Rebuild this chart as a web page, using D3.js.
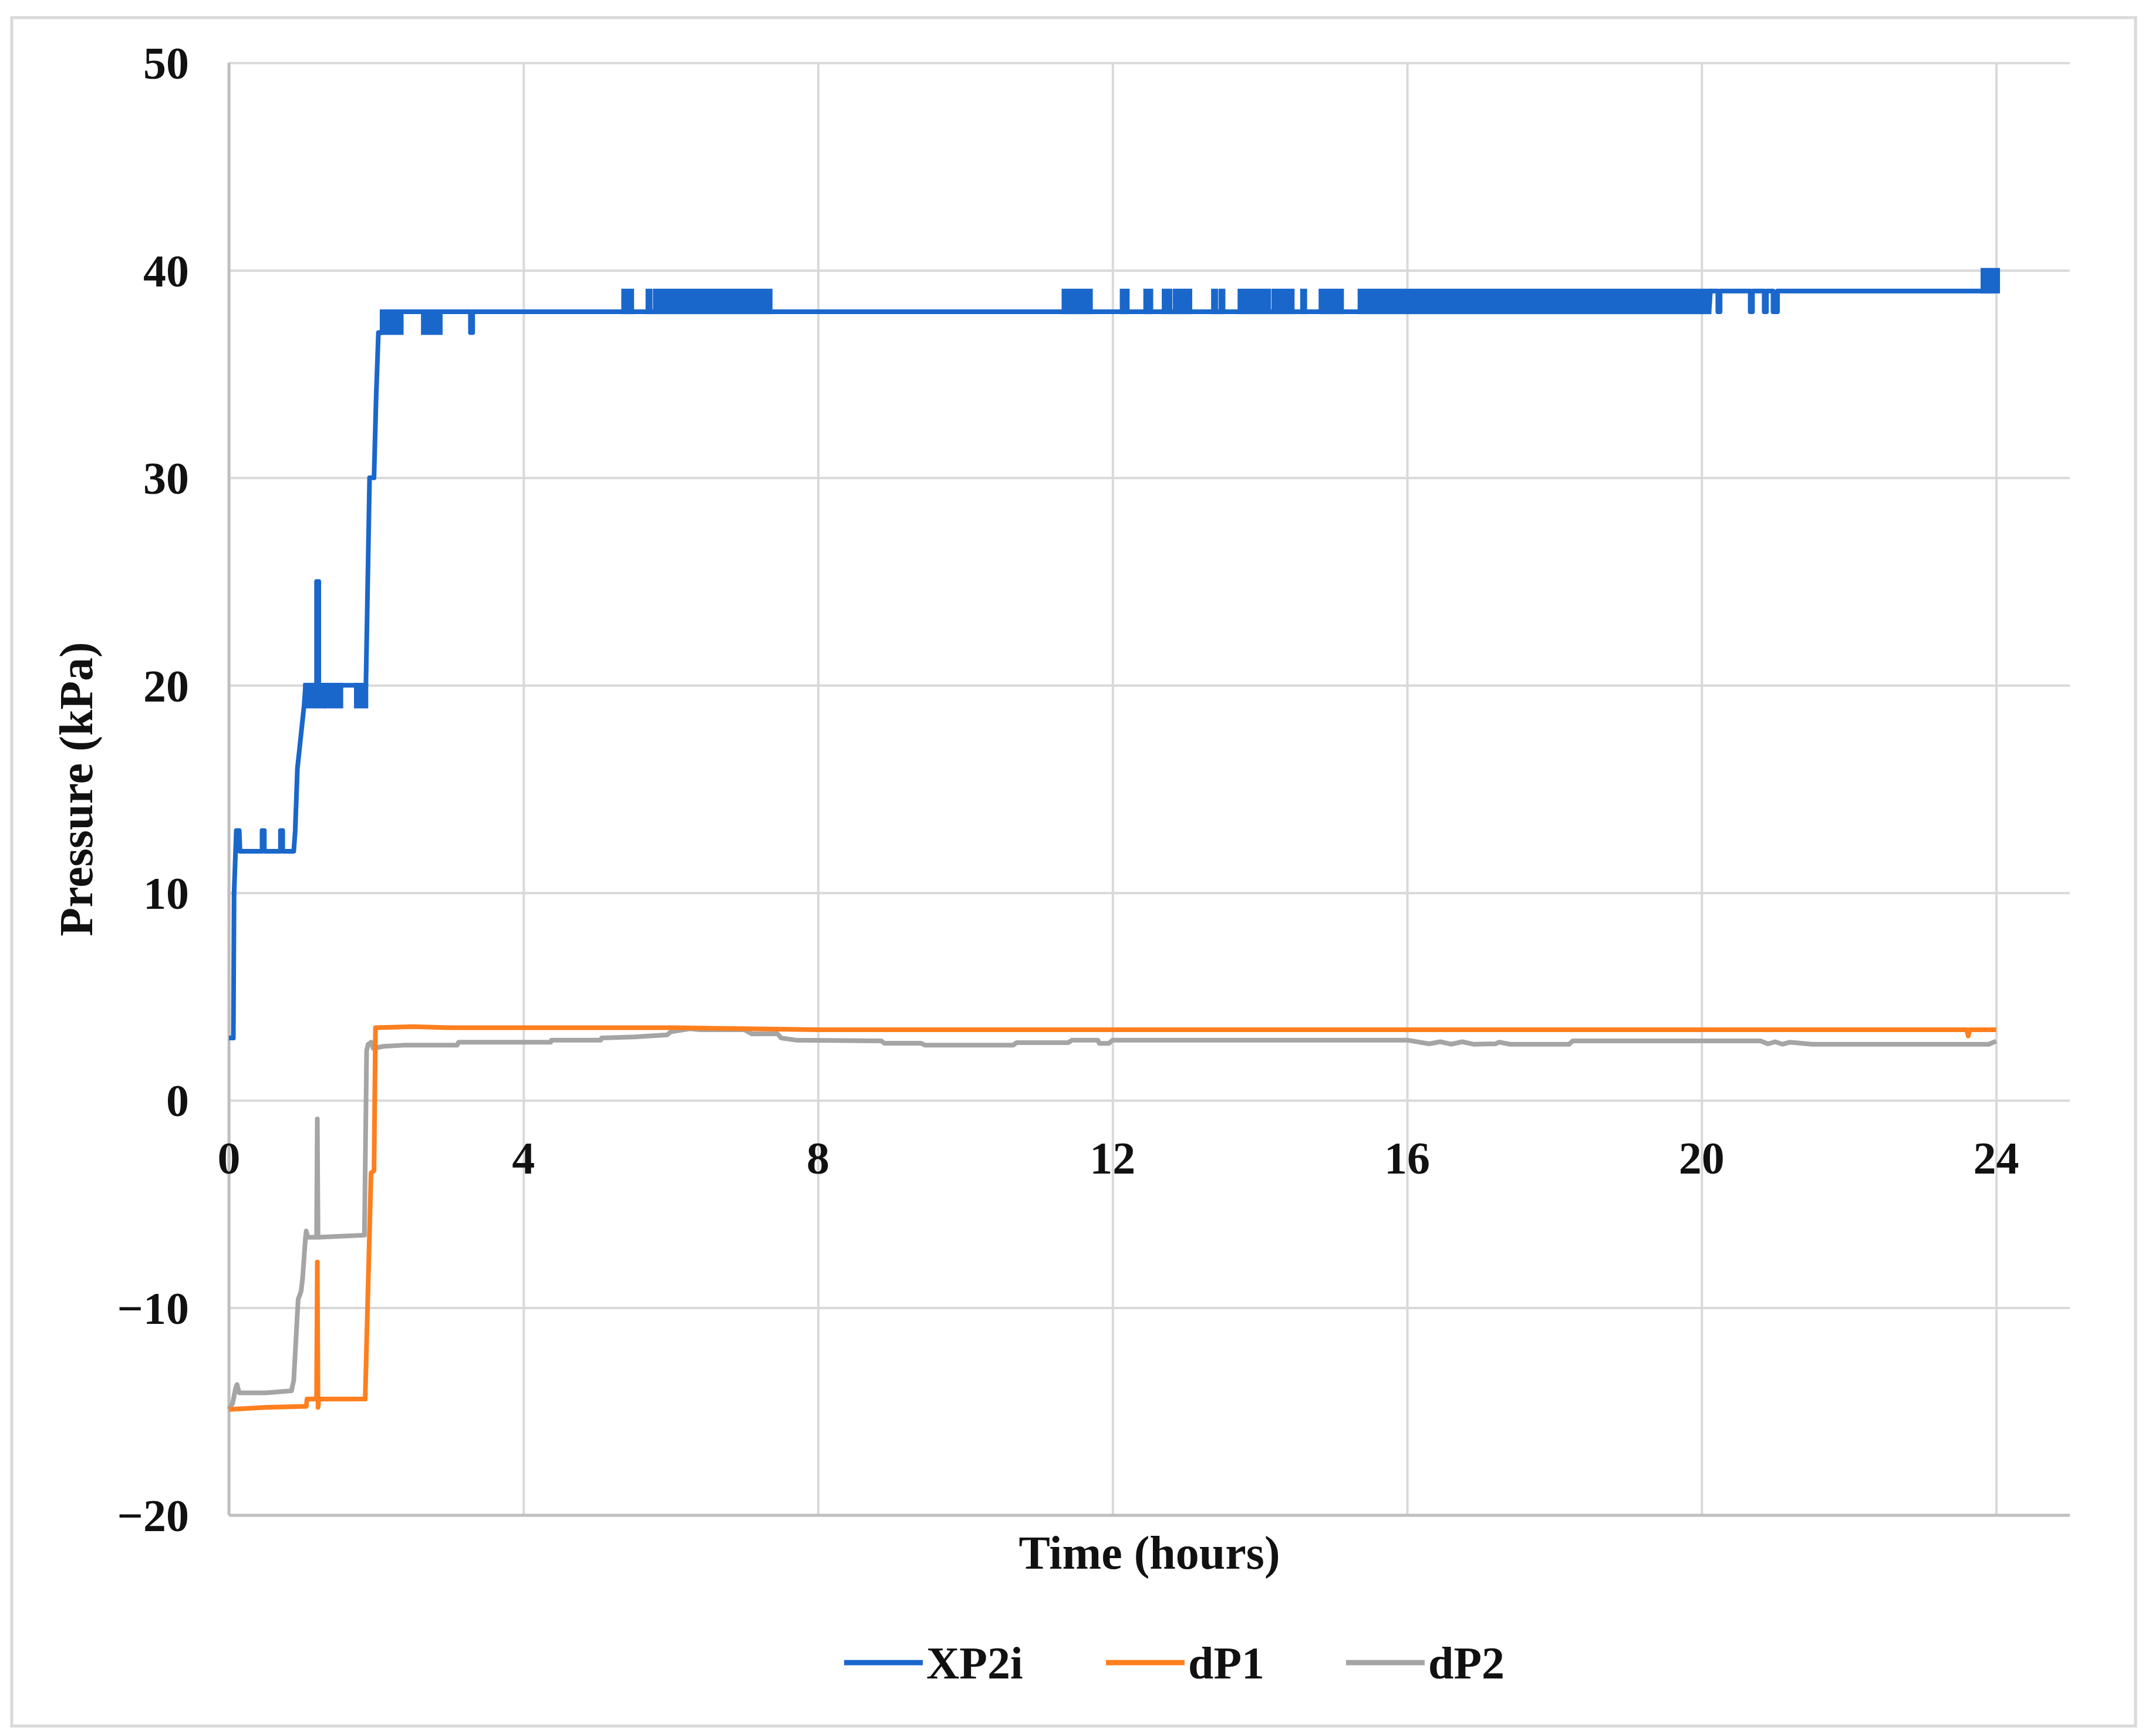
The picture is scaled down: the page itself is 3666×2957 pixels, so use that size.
<!DOCTYPE html>
<html><head><meta charset="utf-8">
<script src="https://cdn.jsdelivr.net/npm/d3@7"></script>
<style>html,body{margin:0;padding:0;background:#fff;}</style>
</head><body>
<script>
// ---------- data ----------
const xTicks = [0, 4, 8, 12, 16, 20, 24];
const yTicks = [-20, -10, 0, 10, 20, 30, 40, 50];
const seriesNames = ["XP2i", "dP1", "dP2"];
const seriesColors = ["#1a67cc", "#ff7f1e", "#a5a5a5"];

// XP2i (kPa) vs time (h)
const xp2i = [
  [0,3],[0.06,3],[0.07,10],[0.09,12],[0.10,13],[0.14,13],[0.15,12],
  [0.45,12],[0.45,13],[0.48,13],[0.48,12],
  [0.70,12],[0.70,13],[0.73,13],[0.73,12],
  [0.88,12],[0.90,13],[0.93,16],[0.96,17],[0.99,18],[1.02,19],[1.04,20],
  [1.19,20],[1.19,25],[1.22,25],[1.22,20],
  [1.86,20],[1.88,24],[1.91,30],[1.97,30],[2.00,34],[2.03,37],[2.08,37],[2.09,38],
  [3.28,38],[3.28,37],[3.31,37],[3.31,38],
  [20.10,38],[20.12,39],
  [20.22,39],[20.22,38],[20.25,38],[20.25,39],
  [20.66,39],[20.66,38],[20.69,38],[20.69,39],
  [20.85,39],[20.85,38],[20.88,38],[20.88,39],
  [20.97,39],[20.97,38],[21.03,38],[21.03,39],
  [23.82,39],[24.0,39]
];
// XP2i intervals of rapid flicker between two readings: [tStart, tEnd, low, high]
const xp2iFlicker = [
  [1.04,1.28,19,20],[1.32,1.52,19,20],[1.73,1.86,19,20],
  [2.08,2.34,37,38],[2.64,2.72,37,38],[2.78,2.87,37,38],
  [5.36,5.47,38,39],[5.69,5.72,38,39],[5.79,7.35,38,39],
  [11.34,11.70,38,39],[12.13,12.20,38,39],[12.45,12.52,38,39],
  [12.70,12.78,38,39],[12.85,12.95,38,39],[13.00,13.05,38,39],
  [13.37,13.40,38,39],[13.47,13.50,38,39],[13.73,14.12,38,39],
  [14.19,14.44,38,39],[14.58,14.61,38,39],[14.83,15.11,38,39],
  [15.36,20.10,38,39],[23.82,24.02,39,40]
];
// dP1 (kPa)
const dp1 = [
  [0,-14.9],[0.5,-14.8],[1.05,-14.75],[1.06,-14.4],[1.19,-14.4],[1.20,-7.8],
  [1.21,-14.8],[1.22,-14.4],[1.85,-14.4],[1.93,-3.5],[1.97,-3.4],[1.99,3.5],
  [2.5,3.55],[3.0,3.5],[6.0,3.5],[7.0,3.45],[8.0,3.4],[12,3.4],[16,3.4],
  [20,3.4],[23.60,3.4],[23.62,3.1],[23.64,3.4],[24.0,3.4]
];
// dP2 (kPa)
const dp2 = [
  [0,-14.9],[0.05,-14.6],[0.09,-13.9],[0.11,-13.7],[0.14,-14.1],[0.5,-14.1],
  [0.85,-14.0],[0.88,-13.5],[0.94,-9.6],[0.98,-9.2],[1.00,-8.6],[1.04,-6.6],
  [1.05,-6.3],[1.07,-6.6],[1.19,-6.6],[1.20,-0.9],[1.21,-6.6],[1.84,-6.5],
  [1.87,2.4],[1.89,2.7],[1.93,2.8],[1.96,2.5],[2.1,2.6],[2.4,2.66],
  [3.1,2.66],[3.12,2.8],[4.37,2.8],[4.38,2.9],[5.05,2.9],[5.06,3.0],[5.5,3.05],
  [5.95,3.15],[6.0,3.3],[6.26,3.45],[6.4,3.4],[7.0,3.4],[7.1,3.2],[7.45,3.2],
  [7.5,3.0],[7.7,2.9],[8.86,2.86],[8.9,2.75],[9.4,2.75],[9.45,2.66],[10.65,2.66],
  [10.7,2.78],[11.4,2.78],[11.45,2.9],[11.8,2.9],[11.82,2.74],[11.95,2.74],
  [12.0,2.9],[16.0,2.9],[16.3,2.72],[16.45,2.82],[16.6,2.7],[16.75,2.82],
  [16.9,2.7],[17.2,2.72],[17.25,2.8],[17.4,2.7],[18.2,2.7],[18.25,2.86],
  [20.8,2.86],[20.9,2.72],[21.0,2.82],[21.1,2.7],[21.2,2.8],[21.5,2.7],
  [23.9,2.7],[24.0,2.85]
];

// ---------- drawing ----------
const W = 3666, H = 2957;
const svg = d3.select("body").append("svg").attr("width", W).attr("height", H)
  .style("font-family", "'Liberation Serif','Times New Roman',serif");

svg.append("rect").attr("x", 0).attr("y", 0).attr("width", W).attr("height", H).attr("fill", "#fff");
svg.append("rect").attr("x", 20).attr("y", 30).attr("width", 3618).attr("height", 2910)
  .attr("fill", "none").attr("stroke", "#d9d9d9").attr("stroke-width", 5);

const x = d3.scaleLinear().domain([0, 25]).range([390, 3526]);
const y = d3.scaleLinear().domain([-20, 50]).range([2581, 107]);

// horizontal gridlines
svg.append("g").attr("transform", `translate(${x(0)},0)`)
  .call(d3.axisLeft(y).tickValues(yTicks).tickSize(-(x(25) - x(0))).tickFormat(""))
  .call(g => g.select(".domain").remove())
  .call(g => g.selectAll("line").attr("stroke", "#d9d9d9").attr("stroke-width", 4));
// vertical gridlines
svg.append("g").attr("transform", `translate(0,${y(-20)})`)
  .call(d3.axisBottom(x).tickValues(xTicks).tickSize(-(y(-20) - y(50))).tickFormat(""))
  .call(g => g.select(".domain").remove())
  .call(g => g.selectAll("line").attr("stroke", "#d9d9d9").attr("stroke-width", 4));
// axis lines
svg.append("line").attr("x1", x(0)).attr("x2", x(0)).attr("y1", y(50)).attr("y2", y(-20))
  .attr("stroke", "#bfbfbf").attr("stroke-width", 5);
svg.append("line").attr("x1", x(0)).attr("x2", x(25)).attr("y1", y(-20)).attr("y2", y(-20))
  .attr("stroke", "#bfbfbf").attr("stroke-width", 5);

// tick labels
const fmt = v => v < 0 ? "\u2212" + Math.abs(v) : String(v);
svg.append("g").selectAll("text").data(yTicks).join("text")
  .attr("x", 322).attr("y", d => y(d)).attr("dy", "0.35em")
  .attr("text-anchor", "end").attr("font-size", 78).attr("font-weight", "bold")
  .attr("fill", "#111").text(fmt);
svg.append("g").selectAll("text").data(xTicks).join("text")
  .attr("x", d => x(d)).attr("y", 1972).attr("dy", "0.35em")
  .attr("text-anchor", "middle").attr("font-size", 78).attr("font-weight", "bold")
  .attr("fill", "#111").text(fmt);

// axis titles
svg.append("text").attr("x", (x(0) + x(25)) / 2).attr("y", 2644).attr("dy", "0.35em")
  .attr("text-anchor", "middle").attr("font-size", 80).attr("font-weight", "bold")
  .attr("fill", "#111").text("Time (hours)");
svg.append("text").attr("transform", `translate(129,${(y(50) + y(-20)) / 2}) rotate(-90)`)
  .attr("dy", "0.35em").attr("text-anchor", "middle").attr("font-size", 80)
  .attr("font-weight", "bold").attr("fill", "#111").text("Pressure (kPa)");

const line = d3.line().x(d => x(d[0])).y(d => y(d[1]));
const lw = 8;

// draw order: dP2, dP1, XP2i on top
svg.append("path").datum(dp2).attr("d", line).attr("fill", "none")
  .attr("stroke", seriesColors[2]).attr("stroke-width", lw).attr("stroke-linejoin", "round");
svg.append("path").datum(dp1).attr("d", line).attr("fill", "none")
  .attr("stroke", seriesColors[1]).attr("stroke-width", lw).attr("stroke-linejoin", "round");

// XP2i flicker bands + continuous line
svg.append("g").selectAll("rect").data(xp2iFlicker).join("rect")
  .attr("x", d => x(d[0]) - lw / 2).attr("y", d => y(d[3]) - lw / 2)
  .attr("width", d => x(d[1]) - x(d[0]) + lw).attr("height", d => y(d[2]) - y(d[3]) + lw)
  .attr("fill", seriesColors[0]);
svg.append("path").datum(xp2i).attr("d", line).attr("fill", "none")
  .attr("stroke", seriesColors[0]).attr("stroke-width", lw).attr("stroke-linejoin", "round");

// legend
const legX = [1438, 1884, 2293];
const leg = svg.append("g").selectAll("g").data(seriesNames).join("g")
  .attr("transform", (d, i) => `translate(${legX[i]},2832)`);
leg.append("line").attr("x1", 0).attr("x2", 134).attr("y1", 0).attr("y2", 0)
  .attr("stroke", (d, i) => seriesColors[i]).attr("stroke-width", 9);
leg.append("text").attr("x", 140).attr("y", 0).attr("dy", "0.35em")
  .attr("font-size", 78).attr("font-weight", "bold").attr("fill", "#111").text(d => d);
</script>
</body></html>
